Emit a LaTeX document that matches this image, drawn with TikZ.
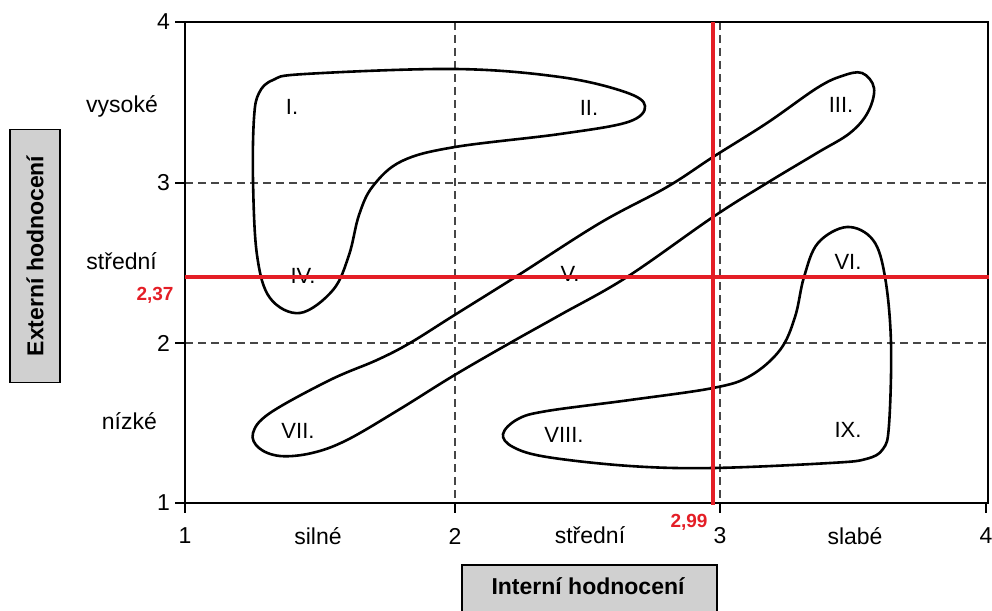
\documentclass[tikz,border=0pt]{standalone}
\usepackage{fontspec}
\setmainfont{Liberation Sans}
\usetikzlibrary{positioning}
\definecolor{cutRed}{RGB}{228,30,38}
\definecolor{boxGray}{RGB}{208,208,208}
\definecolor{gridGray}{RGB}{70,70,70}
\tikzset{
  region line/.style={line width=2.6pt,draw=black,line join=round},
  grid line/.style={draw=gridGray,line width=1.1pt,dash pattern=on 8pt off 5pt},
  frame line/.style={draw=black,line width=1.6pt},
  tick label/.style={font=\fontsize{23}{26}\selectfont,inner sep=1pt},
  region label/.style={font=\fontsize{22}{25}\selectfont,inner sep=1pt},
  title box/.style={draw=black,fill=boxGray,line width=1.4pt,inner sep=0pt},
  title text/.style={font=\bfseries\fontsize{23}{26}\selectfont,inner sep=0pt},
  cut line/.style={draw=cutRed,line width=4.8pt},
  cut label/.style={text=cutRed,font=\bfseries\fontsize{19}{22}\selectfont,inner sep=1pt}
}
\begin{document}
\begin{tikzpicture}[x=1pt,y=-1pt]
  \useasboundingbox (0,0) rectangle (992,610);
  % grid and frame
  \draw[grid line] (455,22) -- (455,503);
  \draw[grid line] (720,22) -- (720,503);
  \draw[grid line] (185,183) -- (988,183);
  \draw[grid line] (185,343) -- (988,343);
  \draw[frame line] (185,22) rectangle (988,503);
  \foreach \v/\yy in {1/503,2/343,3/183,4/22} {
    \draw[frame line] (175,\yy) -- (185,\yy);
    \node[tick label,anchor=east] (ytick\v) at (171,\yy) {\v};
  }
  \foreach \v/\xx in {1/185,2/455,3/720,4/986} {
    \draw[frame line] (\xx,503) -- (\xx,513);
    \node[tick label] (xtick\v) at (\xx,536) {\v};
  }
  % category labels
  \node[tick label,anchor=east] (yHigh) at (159,106) {vysoké};
  \node[tick label,anchor=east] (yMid) at (158,261) {střední};
  \node[tick label,anchor=east] (yLow) at (158,421) {nízké};
  \node[tick label] (xStrong) at (318,536) {silné};
  \node[tick label] (xMid) at (590,535) {střední};
  \node[tick label] (xWeak) at (855,536) {slabé};
  % axis titles
  \node[title box,minimum width=50pt,minimum height=253pt] (yTitle) at (35,256) {};
  \node[title text,rotate=90] (yTitleText) at (yTitle.center) {Externí hodnocení};
  \node[title box,minimum width=255pt,minimum height=50pt] (xTitle) at (589.5,590) {};
  \node[title text] (xTitleText) at (588,586) {Interní hodnocení};
  % regions
  \draw[region line] plot[smooth cycle,tension=0.6] coordinates {
    (254,118) (259,93) (273,80) (305,74) (455,69) (560,77) (625,92) (645,106)
    (628,122) (560,134) (455,147) (402,161) (373,186) (359,215) (349,255)
    (333,290) (300,313) (270,298) (257,255) (253,180)};
  \draw[region line] plot[smooth cycle,tension=0.6] coordinates {
    (253,433) (270,413) (330,380) (377,360) (410,343) (453,316) (517,276)
    (600,223) (667,187) (713,157) (767,123) (817,88) (842,76) (862,73)
    (874,88) (868,112) (850,133) (817,153) (767,183) (713,217) (627,277)
    (560,315) (510,343) (453,376) (400,409) (347,440) (312,453) (280,456)
    (259,448)};
  \draw[region line] plot[smooth cycle,tension=0.6] coordinates {
    (503,434) (518,419) (547,411) (630,400) (713,388) (750,376) (780,350)
    (795,317) (804,277) (818,243) (847,227) (873,240) (885,277) (891,343)
    (889,425) (883,449) (866,459) (830,463) (713,468) (630,466) (547,457)
    (513,447)};
  \node[region label] (regI) at (292,107) {I.};
  \node[region label] (regII) at (589,108) {II.};
  \node[region label] (regIII) at (841,105) {III.};
  \node[region label] (regIV) at (303,276) {IV.};
  \node[region label] (regV) at (570,274) {V.};
  \node[region label] (regVI) at (848,262) {VI.};
  \node[region label] (regVII) at (298,431) {VII.};
  \node[region label] (regVIII) at (564,435) {VIII.};
  \node[region label] (regIX) at (848,430) {IX.};
  % red cut lines
  \coordinate (cutLeft) at (185,277);
  \coordinate (cutRight) at (989,277);
  \coordinate (cutTop) at (713,22);
  \coordinate (cutBottom) at (713,505);
  \draw[cut line] (cutLeft) -- (cutRight);
  \draw[cut line] (cutTop) -- (cutBottom);
  \node[cut label] (cutYval) at (155,295) {2,37};
  \node[cut label] (cutXval) at (689,522) {2,99};
\end{tikzpicture}
\end{document}
